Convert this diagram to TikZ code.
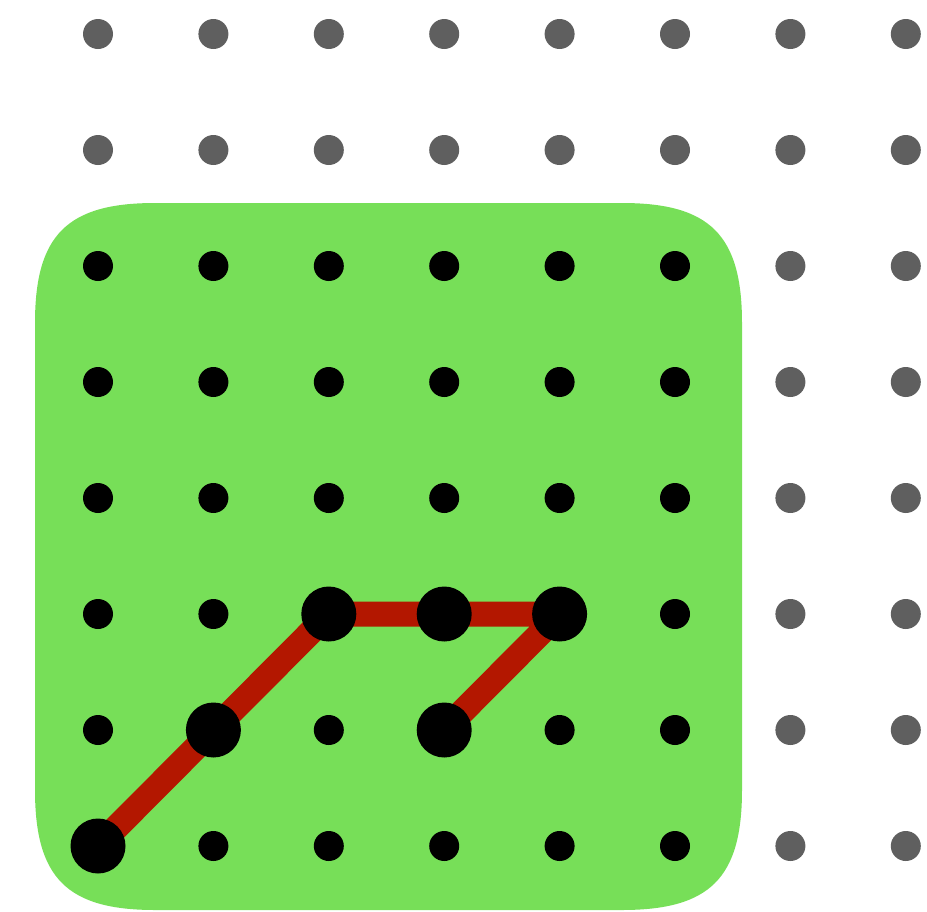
\documentclass[tikz,border=0pt]{standalone}
\definecolor{boardgreen}{HTML}{77DF58}
\definecolor{peggray}{HTML}{5F5F5F}
\definecolor{bandred}{HTML}{B31700}
\tikzset{
  graypeg/.style={fill=peggray},
  blackpeg/.style={fill=black},
  band/.style={draw=bandred,line width=25pt,line join=round},
}
\begin{document}
\begin{tikzpicture}[x=1pt,y=-1pt]
\useasboundingbox (0,0) rectangle (927,911);
% board
\fill[boardgreen] (35,323) .. controls (35,235) and (67,203) .. (155,203)
  -- (622,203) .. controls (710,203) and (742,235) .. (742,323)
  -- (742,790) .. controls (742,878) and (710,910) .. (622,910)
  -- (155,910) .. controls (67,910) and (35,878) .. (35,790) -- cycle;
% grid coordinates
\foreach \i in {0,...,7}{
  \foreach \j in {0,...,7}{
    \coordinate (p-\i-\j) at ({98+115.4*\i},{34+116*\j});
  }
}
% pegs
\foreach \i in {0,...,7}{
  \foreach \j in {0,...,7}{
    \pgfmathtruncatemacro{\inboard}{(\i<6)&&(\j>1)}
    \ifnum\inboard=1
      \fill[blackpeg] (p-\i-\j) circle[radius=15];
    \else
      \fill[graypeg] (p-\i-\j) circle[radius=15];
    \fi
  }
}
% rubber band
\draw[band] (p-0-7) -- (p-1-6) -- (p-2-5) -- (p-3-5) -- (p-4-5) -- (p-3-6);
% big pegs
\foreach \c in {p-0-7,p-1-6,p-2-5,p-3-5,p-4-5,p-3-6}{
  \fill[blackpeg] (\c) circle[radius=27.5];
}
\end{tikzpicture}
\end{document}
